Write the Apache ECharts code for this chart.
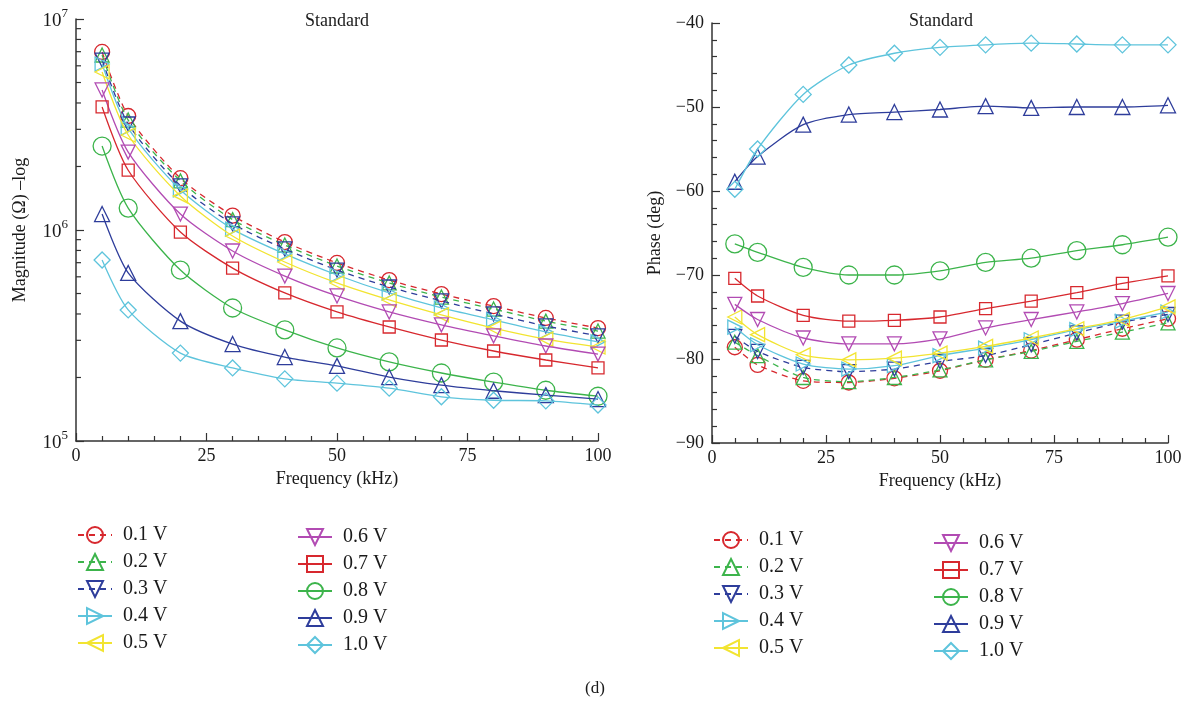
<!DOCTYPE html>
<html><head><meta charset="utf-8">
<script src="https://cdn.jsdelivr.net/npm/echarts@6/dist/echarts.min.js"></script>
<style>html,body{margin:0;padding:0;background:#fff}#c{width:1191px;height:704px}</style>
</head><body><div id="c"></div>
<script>
const freq = [5, 10, 20, 30, 40, 50, 60, 70, 80, 90, 100];
const voltages = ['0.1 V', '0.2 V', '0.3 V', '0.4 V', '0.5 V', '0.6 V', '0.7 V', '0.8 V', '0.9 V', '1.0 V'];

const mag01 = [6.98e6, 3.47e6, 1.76e6, 1.17e6, 8.77e5, 6.98e5, 5.79e5, 4.97e5, 4.36e5, 3.83e5, 3.43e5];
const mag02 = [6.75e6, 3.32e6, 1.71e6, 1.12e6, 8.49e5, 6.75e5, 5.61e5, 4.81e5, 4.22e5, 3.70e5, 3.32e5];
const mag03 = [6.39e6, 3.18e6, 1.62e6, 1.07e6, 8.13e5, 6.46e5, 5.37e5, 4.61e5, 4.00e5, 3.51e5, 3.15e5];
const mag04 = [6.12e6, 3.04e6, 1.55e6, 1.01e6, 7.70e5, 6.12e5, 5.03e5, 4.27e5, 3.75e5, 3.29e5, 2.95e5];
const mag05 = [5.61e6, 2.82e6, 1.45e6, 9.37e5, 7.05e5, 5.61e5, 4.66e5, 3.96e5, 3.43e5, 3.04e5, 2.79e5];
const mag06 = [4.61e6, 2.34e6, 1.19e6, 7.95e5, 6.05e5, 4.87e5, 4.09e5, 3.55e5, 3.15e5, 2.82e5, 2.58e5];
const mag07 = [3.83e6, 1.92e6, 9.78e5, 6.60e5, 5.03e5, 4.09e5, 3.47e5, 3.01e5, 2.67e5, 2.42e5, 2.22e5];
const mag08 = [2.50e6, 1.27e6, 6.46e5, 4.27e5, 3.36e5, 2.76e5, 2.37e5, 2.10e5, 1.90e5, 1.74e5, 1.63e5];
const mag09 = [1.19e6, 6.26e5, 3.70e5, 2.88e5, 2.50e5, 2.27e5, 2.01e5, 1.84e5, 1.73e5, 1.65e5, 1.58e5];
const mag10 = [7.21e5, 4.18e5, 2.61e5, 2.22e5, 1.97e5, 1.88e5, 1.78e5, 1.62e5, 1.56e5, 1.55e5, 1.48e5];

const ph01 = [-78.6, -80.7, -82.6, -82.8, -82.3, -81.4, -80.1, -79.0, -77.7, -76.4, -75.2];
const ph02 = [-78.0, -79.6, -82.2, -82.7, -82.2, -81.3, -80.1, -79.1, -77.9, -76.8, -75.7];
const ph03 = [-77.3, -79.1, -81.0, -81.5, -81.2, -80.3, -79.6, -78.3, -76.9, -75.6, -74.7];
const ph04 = [-76.2, -78.3, -80.6, -81.2, -80.8, -79.6, -78.7, -77.7, -76.5, -75.5, -74.4];
const ph05 = [-75.0, -77.1, -79.5, -80.1, -79.9, -79.3, -78.5, -77.5, -76.4, -75.3, -73.8];
const ph06 = [-73.5, -75.3, -77.5, -78.2, -78.2, -77.6, -76.3, -75.3, -74.4, -73.4, -72.2];
const ph07 = [-70.4, -72.5, -74.8, -75.5, -75.4, -75.0, -74.0, -73.1, -72.1, -71.0, -70.1];
const ph08 = [-66.3, -67.3, -69.1, -70.0, -70.0, -69.5, -68.5, -68.0, -67.1, -66.4, -65.5];
const ph09 = [-58.9, -55.9, -52.1, -50.9, -50.6, -50.3, -49.9, -50.1, -50.0, -50.0, -49.8];
const ph10 = [-59.8, -55.0, -48.5, -45.0, -43.6, -42.9, -42.6, -42.4, -42.5, -42.6, -42.6];

const logMinorTicks = [2e5, 3e5, 4e5, 5e5, 6e5, 7e5, 8e5, 9e5, 2e6, 3e6, 4e6, 5e6, 6e6, 7e6, 8e6, 9e6];

const magSeries = [mag01, mag02, mag03, mag04, mag05, mag06, mag07, mag08, mag09, mag10];
const phSeries = [ph01, ph02, ph03, ph04, ph05, ph06, ph07, ph08, ph09, ph10];

const RED = '#d7282e', GREEN = '#3cb44b', BLUE = '#2e3d9b', CYAN = '#5ec4dc', YELLOW = '#f2e431', MAG = '#b24bb3';
const styles = [
  { color: RED, symbol: 'circle', size: 15, rot: 0, dash: true },
  { color: GREEN, symbol: 'triangle', size: 14, rot: 0, dash: true },
  { color: BLUE, symbol: 'triangle', size: 14, rot: 180, dash: true },
  { color: CYAN, symbol: 'triangle', size: 14, rot: -90, dash: false },
  { color: YELLOW, symbol: 'triangle', size: 14, rot: 90, dash: false },
  { color: MAG, symbol: 'triangle', size: 14, rot: 180, dash: false },
  { color: RED, symbol: 'rect', size: 12, rot: 0, dash: false },
  { color: GREEN, symbol: 'circle', size: 18, rot: 0, dash: false },
  { color: BLUE, symbol: 'triangle', size: 15, rot: 0, dash: false },
  { color: CYAN, symbol: 'diamond', size: 16, rot: 0, dash: false }
];

const FONT = '"Liberation Serif", "DejaVu Serif", serif';
const TXT = '#1a1a1a';
const AX = '#333';

function makeSeries(arrs, gi) {
  return arrs.map((arr, i) => {
    const s = styles[i];
    return {
      type: 'line', name: voltages[i], xAxisIndex: gi, yAxisIndex: gi,
      data: freq.map((f, k) => [f, arr[k]]),
      smooth: 0.25,
      symbol: s.symbol, symbolSize: s.size, symbolRotate: s.rot,
      showAllSymbol: true,
      lineStyle: { color: s.color, width: 1.3, type: s.dash ? [6, 5] : 'solid' },
      itemStyle: { color: 'rgba(255,255,255,0)', borderColor: s.color, borderWidth: 1.3 },
      emphasis: { disabled: true },
      z: 3 + i * 0.01,
      animation: false
    };
  });
}

const xAxisCommon = {
  type: 'value', min: 0, max: 100, interval: 25,
  name: 'Frequency (kHz)', nameLocation: 'middle', nameGap: 29,
  nameTextStyle: { fontFamily: FONT, fontSize: 18, color: TXT },
  axisLine: { show: true, lineStyle: { color: AX, width: 1.5 } },
  axisTick: { show: true, inside: true, length: 8, lineStyle: { color: AX, width: 1.2 } },
  minorTick: { show: true, splitNumber: 5, length: 5, lineStyle: { color: AX, width: 1.2 } },
  axisLabel: { fontFamily: FONT, fontSize: 18, color: TXT, margin: 6 },
  splitLine: { show: false }
};

const legendCommon = {
  orient: 'vertical', itemWidth: 34, itemHeight: 20, itemGap: 7, padding: 0,
  textStyle: { fontFamily: FONT, fontSize: 20, lineHeight: 20, color: TXT, padding: [0, 0, 0, 6] },
  selectedMode: false,
  inactiveColor: '#ccc'
};

const chart = echarts.init(document.getElementById('c'), null, { renderer: 'canvas' });
chart.setOption({
  animation: false,
  backgroundColor: '#fff',
  grid: [
    { left: 76, width: 522, top: 19, height: 422, containLabel: false },
    { left: 712, width: 456, top: 23, height: 420, containLabel: false }
  ],
  xAxis: [
    Object.assign({}, xAxisCommon, { gridIndex: 0 }),
    Object.assign({}, xAxisCommon, { gridIndex: 1 })
  ],
  yAxis: [
    {
      gridIndex: 0, type: 'log', logBase: 10, min: 1e5, max: 1e7,
      name: 'Magnitude (Ω) –log', nameLocation: 'middle', nameGap: 47, nameRotate: 90,
      nameTextStyle: { fontFamily: FONT, fontSize: 18, color: TXT },
      axisLine: { show: true, lineStyle: { color: AX, width: 1.5 } },
      axisTick: { show: true, inside: true, length: 8, lineStyle: { color: AX, width: 1.2 } },
      axisLabel: {
        fontFamily: FONT, fontSize: 18, color: TXT, margin: 8,
        formatter: v => '{b|10}{s|' + Math.round(Math.log10(v)) + '}',
        rich: {
          b: { fontFamily: FONT, fontSize: 19, color: TXT, lineHeight: 24, verticalAlign: 'bottom' },
          s: { fontFamily: FONT, fontSize: 13, color: TXT, lineHeight: 24, verticalAlign: 'top' }
        }
      },
      splitLine: { show: false }
    },
    {
      gridIndex: 1, type: 'value', min: -90, max: -40, interval: 10,
      name: 'Phase (deg)', nameLocation: 'middle', nameGap: 48, nameRotate: 90,
      nameTextStyle: { fontFamily: FONT, fontSize: 18, color: TXT },
      axisLine: { show: true, lineStyle: { color: AX, width: 1.5 } },
      axisTick: { show: true, inside: true, length: 8, lineStyle: { color: AX, width: 1.2 } },
      minorTick: { show: true, splitNumber: 5, length: 5, lineStyle: { color: AX, width: 1.2 } },
      axisLabel: {
        fontFamily: FONT, fontSize: 18, color: TXT, margin: 8,
        formatter: v => (v < 0 ? '\u2212' : '') + Math.abs(v)
      },
      splitLine: { show: false }
    }
  ],
  legend: [
    Object.assign({}, legendCommon, { left: 77, top: 525, data: voltages.slice(0, 5) }),
    Object.assign({}, legendCommon, { left: 297, top: 527, data: voltages.slice(5) }),
    Object.assign({}, legendCommon, { left: 713, top: 530, data: voltages.slice(0, 5) }),
    Object.assign({}, legendCommon, { left: 933, top: 533, data: voltages.slice(5) })
  ],
  graphic: [
    { type: 'text', x: 337, y: 21, style: { text: 'Standard', font: '18px ' + FONT, fill: TXT, textAlign: 'center', textVerticalAlign: 'middle' } },
    { type: 'text', x: 941, y: 21, style: { text: 'Standard', font: '18px ' + FONT, fill: TXT, textAlign: 'center', textVerticalAlign: 'middle' } },
    { type: 'text', x: 595, y: 689, style: { text: '(d)', font: '17px ' + FONT, fill: TXT, textAlign: 'center', textVerticalAlign: 'middle' } }
  ],
  series: makeSeries(magSeries, 0).concat(makeSeries(phSeries, 1)).concat([
    {
      type: 'custom', name: 'logMinor', xAxisIndex: 0, yAxisIndex: 0, silent: true, clip: false,
      data: logMinorTicks.map(v => [0, v]),
      renderItem: (params, api) => {
        const p = api.coord([0, api.value(1)]);
        return { type: 'line', shape: { x1: p[0], y1: p[1], x2: p[0] + 5, y2: p[1] }, style: { stroke: AX, lineWidth: 1.2 } };
      },
      z: 1
    }
  ])
});
</script>
</body></html>
